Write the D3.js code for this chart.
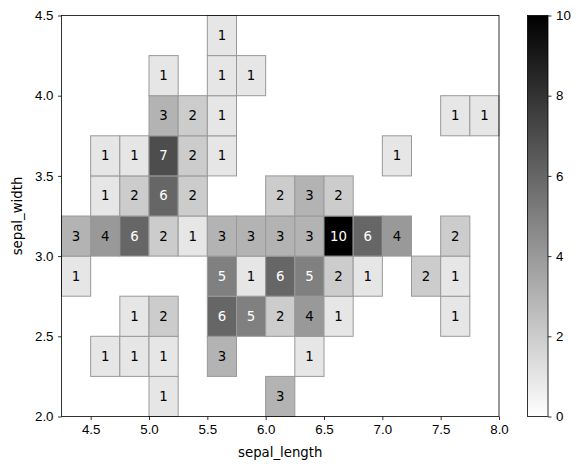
<!DOCTYPE html>
<html>
<head>
<meta charset="utf-8">
<script src="https://cdn.jsdelivr.net/npm/d3@7"></script>
<style>
  body { margin: 0; background: #fff; }
  svg { font-family: "DejaVu Sans", sans-serif; }
  .tick text { font-size: 13.3px; fill: #000; }
</style>
</head>
<body>
<div id="chart"></div>
<script>
// bin left edges
var xBins = [4.25, 4.5, 4.75, 5.0, 5.25, 5.5, 5.75, 6.0, 6.25, 6.5, 6.75, 7.0, 7.25, 7.5, 7.75];
var yBins = [2.0, 2.25, 2.5, 2.75, 3.0, 3.25, 3.5, 3.75, 4.0, 4.25];
var binSize = 0.25;

// counts, one row per yBin (bottom to top), one column per xBin
var counts = [
  [0, 0, 0, 1, 0, 0, 0, 3, 0, 0, 0, 0, 0, 0, 0],
  [0, 1, 1, 1, 0, 3, 0, 0, 1, 0, 0, 0, 0, 0, 0],
  [0, 0, 1, 2, 0, 6, 5, 2, 4, 1, 0, 0, 0, 1, 0],
  [1, 0, 0, 0, 0, 5, 1, 6, 5, 2, 1, 0, 2, 1, 0],
  [3, 4, 6, 2, 1, 3, 3, 3, 3, 10, 6, 4, 0, 2, 0],
  [0, 1, 2, 6, 2, 0, 0, 2, 3, 2, 0, 0, 0, 0, 0],
  [0, 1, 1, 7, 2, 1, 0, 0, 0, 0, 0, 1, 0, 0, 0],
  [0, 0, 0, 3, 2, 1, 0, 0, 0, 0, 0, 0, 0, 1, 1],
  [0, 0, 0, 1, 0, 1, 1, 0, 0, 0, 0, 0, 0, 0, 0],
  [0, 0, 0, 0, 0, 1, 0, 0, 0, 0, 0, 0, 0, 0, 0]
];

var xTicks = [4.5, 5.0, 5.5, 6.0, 6.5, 7.0, 7.5, 8.0];
var yTicks = [2.0, 2.5, 3.0, 3.5, 4.0, 4.5];
var cbTicks = [0, 2, 4, 6, 8, 10];

var W = 584, H = 470;
var plot = { left: 61.5, top: 15.5, right: 499, bottom: 416.5 };

var svg = d3.select("#chart").append("svg")
  .attr("width", W)
  .attr("height", H);

var x = d3.scaleLinear().domain([4.25, 8.0]).range([plot.left, plot.right]);
var y = d3.scaleLinear().domain([2.0, 4.5]).range([plot.bottom, plot.top]);
var color = d3.scaleLinear().domain([0, 10]).range(["#ffffff", "#000000"]);

var cells = [];
counts.forEach(function (row, i) {
  row.forEach(function (c, j) {
    if (c > 0) cells.push({ x0: xBins[j], y0: yBins[i], n: c });
  });
});

var g = svg.append("g");

g.selectAll("rect.cell")
  .data(cells)
  .enter().append("rect")
  .attr("class", "cell")
  .attr("x", function (d) { return x(d.x0); })
  .attr("y", function (d) { return y(d.y0 + binSize); })
  .attr("width", function (d) { return x(d.x0 + binSize) - x(d.x0); })
  .attr("height", function (d) { return y(d.y0) - y(d.y0 + binSize); })
  .attr("fill", function (d) { return color(d.n); })
  .attr("stroke", "#999")
  .attr("stroke-width", 1);

g.selectAll("text.lbl")
  .data(cells)
  .enter().append("text")
  .attr("class", "lbl")
  .attr("x", function (d) { return x(d.x0 + binSize / 2); })
  .attr("y", function (d) { return y(d.y0 + binSize / 2); })
  .attr("text-anchor", "middle")
  .attr("dominant-baseline", "central")
  .style("font-size", "13.3px")
  .attr("fill", function (d) { return d.n >= 5 ? "#fff" : "#000"; })
  .text(function (d) { return d.n; });

// axes
var xAxis = svg.append("g")
  .attr("transform", "translate(0," + plot.bottom + ")")
  .call(d3.axisBottom(x).tickValues(xTicks).tickFormat(d3.format(".1f")).tickSizeOuter(0).tickSize(3.5).tickPadding(4.5));
var yAxis = svg.append("g")
  .attr("transform", "translate(" + plot.left + ",0)")
  .call(d3.axisLeft(y).tickValues(yTicks).tickFormat(d3.format(".1f")).tickSizeOuter(0).tickSize(3.5).tickPadding(4.5));
svg.selectAll(".domain").remove();
svg.selectAll(".tick line").attr("stroke", "#000").attr("stroke-width", 0.8);

svg.append("rect")
  .attr("x", plot.left).attr("y", plot.top)
  .attr("width", plot.right - plot.left).attr("height", plot.bottom - plot.top)
  .attr("fill", "none").attr("stroke", "#000").attr("stroke-width", 0.8);

svg.append("text")
  .attr("x", (plot.left + plot.right) / 2).attr("y", 457)
  .attr("text-anchor", "middle")
  .style("font-size", "13.3px")
  .text("sepal_length");

svg.append("text")
  .attr("transform", "translate(22," + (plot.top + plot.bottom) / 2 + ") rotate(-90)")
  .attr("text-anchor", "middle")
  .style("font-size", "13.3px")
  .text("sepal_width");

// colorbar
var cb = { left: 527.5, right: 548, top: plot.top, bottom: plot.bottom };
var defs = svg.append("defs");
var grad = defs.append("linearGradient")
  .attr("id", "cbgrad")
  .attr("x1", "0").attr("y1", "1").attr("x2", "0").attr("y2", "0");
grad.append("stop").attr("offset", "0").attr("stop-color", color(0));
grad.append("stop").attr("offset", "1").attr("stop-color", color(10));

svg.append("rect")
  .attr("x", cb.left).attr("y", cb.top)
  .attr("width", cb.right - cb.left).attr("height", cb.bottom - cb.top)
  .attr("fill", "url(#cbgrad)")
  .attr("stroke", "#000").attr("stroke-width", 0.8);

var cy = d3.scaleLinear().domain([0, 10]).range([cb.bottom, cb.top]);
var cAxis = svg.append("g")
  .attr("transform", "translate(" + cb.right + ",0)")
  .call(d3.axisRight(cy).tickValues(cbTicks).tickSizeOuter(0).tickSize(3.5).tickPadding(4.5));
cAxis.select(".domain").remove();
cAxis.selectAll(".tick line").attr("stroke", "#000").attr("stroke-width", 0.8);
</script>
</body>
</html>
